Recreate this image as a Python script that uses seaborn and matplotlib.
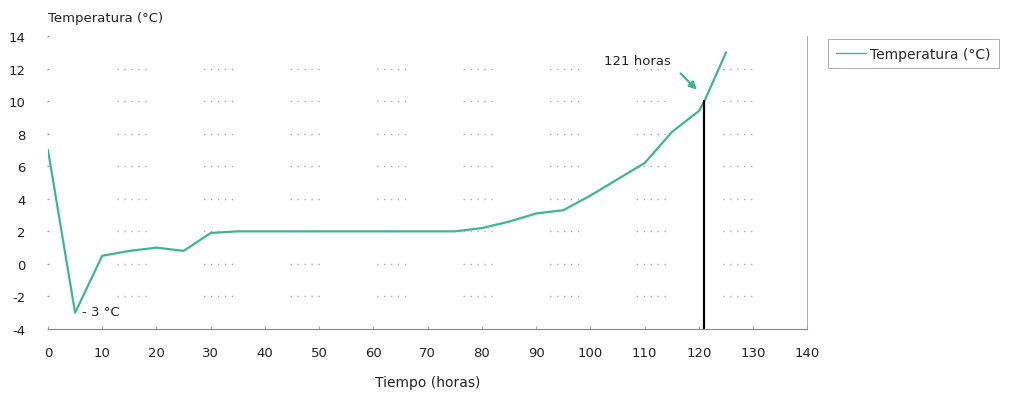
import matplotlib
matplotlib.use("Agg")
import matplotlib.pyplot as plt
import seaborn as sns
import pandas as pd

# Temperature record over time
horas = [0, 5, 10, 15, 20, 25, 30, 35, 40, 45, 50, 55, 60, 65, 70, 75,
         80, 85, 90, 95, 100, 105, 110, 115, 120, 121, 125]
temperatura = [7.0, -3.0, 0.5, 0.8, 1.0, 0.8, 1.9, 2.0, 2.0, 2.0, 2.0, 2.0,
               2.0, 2.0, 2.0, 2.0, 2.2, 2.6, 3.1, 3.3, 4.2, 5.2, 6.2, 8.1,
               9.4, 10.0, 13.0]
x_ticks = list(range(0, 141, 10))
y_ticks = list(range(-4, 15, 2))
y_labels = [str(v) for v in y_ticks]
grid_levels = list(range(-2, 13, 2))
marca_hora = 121
marca_temp = 10.0
minimo_hora = 5
minimo_temp = -3

df = pd.DataFrame({"Tiempo (horas)": horas, "Temperatura (°C)": temperatura})

sns.set_style("white")
plt.rcParams["font.family"] = ["DejaVu Sans"]
color = "#3fb690"
texto = "#222222"

fig = plt.figure(figsize=(10.1, 4.02), dpi=100)
ax = fig.add_axes([0.0475, 0.179, 0.752, 0.729])

# Sparse dotted grid: groups of dots separated by long gaps
grid_dash = (51.5, (1, 4, 1, 4, 1, 4, 1, 4, 1, 41.3))
ax.hlines(grid_levels, 10, 140, linestyles=[grid_dash], colors="#a8a8a8",
          linewidth=1.0, zorder=0)

sns.lineplot(data=df, x="Tiempo (horas)", y="Temperatura (°C)", ax=ax,
             color=color, linewidth=1.6, label="Temperatura (°C)")

ax.set_xlim(0, 140)
ax.set_ylim(-4, 14)
ax.set_xticks(x_ticks)
ax.set_yticks(y_ticks)
ax.set_yticklabels(y_labels)
ax.tick_params(axis="both", labelsize=9.5, colors=texto, length=2,
               width=0.6, pad=8)
ax.tick_params(axis="x", bottom=True, color="#8a8a8a", direction="in",
               pad=12)
ax.tick_params(axis="y", left=True, length=2, width=1.0, color="#9a9a9a",
               direction="inout", pad=15)

for side in ["top", "left"]:
    ax.spines[side].set_visible(False)
ax.spines["bottom"].set_color("#8a8a8a")
ax.spines["bottom"].set_linewidth(0.8)
ax.spines["right"].set_color("#a0a0a0")
ax.spines["right"].set_linewidth(0.6)

ax.set_xlabel("Tiempo (horas)", fontsize=10, color=texto, labelpad=12)
ax.set_ylabel("")
ax.text(0.0, 1.04, "Temperatura (°C)", transform=ax.transAxes,
        fontsize=9.5, color=texto, ha="left", va="bottom")

# Marker line at 121 hours
ax.plot([marca_hora, marca_hora], [-4, marca_temp], color="black", linewidth=1.6)
ax.text(108.7, 12.1, "121 horas", fontsize=9.5, color=texto,
        ha="center", va="bottom")
ax.annotate("", xy=(119.6, 10.7), xytext=(116.6, 11.7),
            arrowprops=dict(arrowstyle="-|>", color=color, lw=1.6,
                            shrinkA=0, shrinkB=0, mutation_scale=11))
ax.text(minimo_hora + 1.2, minimo_temp + 0.05, "- 3 °C", fontsize=9.5,
        color=texto, ha="left", va="center")

leg = ax.legend(loc="upper left", bbox_to_anchor=(1.027, 0.99), fontsize=10,
                frameon=True, fancybox=False, handlelength=2.2,
                borderpad=0.55, handletextpad=0.3, borderaxespad=0)
leg.get_frame().set_edgecolor("#888888")
leg.get_frame().set_linewidth(0.6)
for line in leg.get_lines():
    line.set_linewidth(1.0)

fig.savefig("out.png", dpi=100)
